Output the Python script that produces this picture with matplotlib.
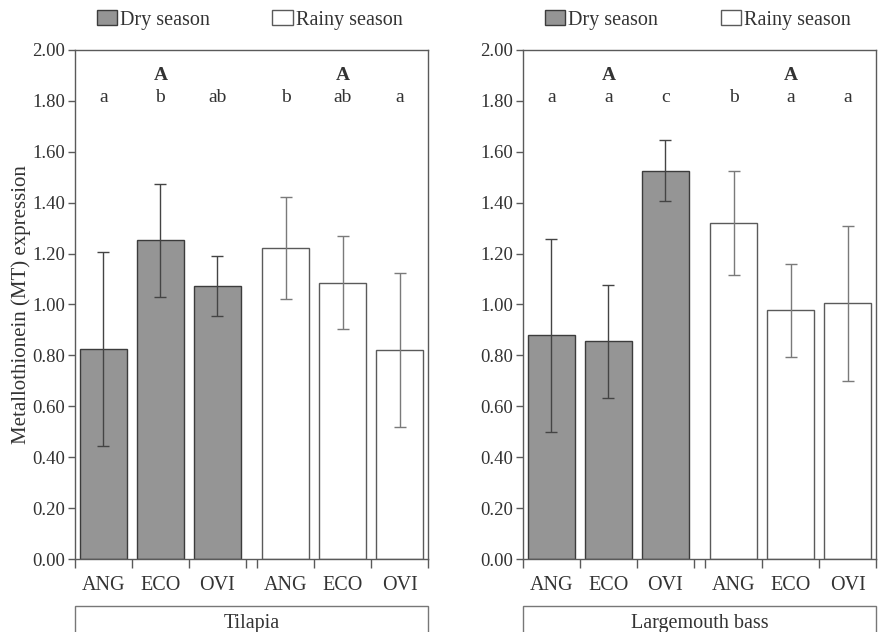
import matplotlib
matplotlib.use("Agg")
import matplotlib.pyplot as plt
from matplotlib.patches import Patch, Rectangle

plt.rcParams['font.family'] = ['Liberation Serif', 'DejaVu Serif']

sites = ["ANG", "ECO", "OVI"]
species = ["Tilapia", "Largemouth bass"]

# mean MT expression and error, dry then rainy season
tilapia_dry = [0.825, 1.253, 1.073]
tilapia_dry_err = [0.38, 0.222, 0.119]
tilapia_rainy = [1.221, 1.086, 0.821]
tilapia_rainy_err = [0.20, 0.183, 0.303]

bass_dry = [0.879, 0.856, 1.525]
bass_dry_err = [0.38, 0.222, 0.12]
bass_rainy = [1.320, 0.977, 1.005]
bass_rainy_err = [0.205, 0.183, 0.305]

tilapia_letters = ["a", "b", "ab", "b", "ab", "a"]
bass_letters = ["a", "a", "c", "b", "a", "a"]
upper_letters = ["", "A", "", "", "A", ""]

TEXT = "#333333"
DRY = "#959595"
EDGE = "#3c3c3c"
RAINY_EDGE = "#5a5a5a"
SPINE = "#5a5a5a"

fig = plt.figure(figsize=(8.79, 6.32), dpi=100)

panels = [
    (0.0853, species[0], tilapia_dry, tilapia_dry_err, tilapia_rainy, tilapia_rainy_err, tilapia_letters),
    (0.5950, species[1], bass_dry, bass_dry_err, bass_rainy, bass_rainy_err, bass_letters),
]

dry_x = [0, 1, 2]
rainy_x = [3.2, 4.2, 5.2]
width = 0.83

for left, name, dry, dry_err, rainy, rainy_err, letters in panels:
    ax = fig.add_axes([left, 0.1155, 0.4016, 0.8054])
    ax.bar(dry_x, dry, width, color=DRY, edgecolor=EDGE, linewidth=1.0, zorder=2)
    ax.bar(rainy_x, rainy, width, color="white", edgecolor=RAINY_EDGE, linewidth=1.0, zorder=2)
    ax.errorbar(dry_x, dry, yerr=dry_err, fmt="none", ecolor="#444444",
                elinewidth=1.0, capsize=4, capthick=1.0, zorder=3)
    ax.errorbar(rainy_x, rainy, yerr=rainy_err, fmt="none", ecolor="#7a7a7a",
                elinewidth=1.0, capsize=4, capthick=1.0, zorder=3)

    ax.set_xlim(-0.5, 5.7)
    ax.set_ylim(0, 2.0)
    ax.set_yticks([i * 0.2 for i in range(11)])
    ax.set_yticklabels([f"{i * 0.2:.2f}" for i in range(11)])
    ax.tick_params(axis="y", direction="out", length=5, width=1, color=SPINE,
                   labelsize=13.5, labelcolor=TEXT, pad=2)

    ax.set_xticks([-0.5, 0.5, 1.5, 2.5, 2.7, 3.7, 4.7, 5.7])
    ax.set_xticklabels([])
    ax.tick_params(axis="x", which="major", direction="out", length=6.5, width=1, color=SPINE)
    ax.set_xticks(dry_x + rainy_x, minor=True)
    ax.set_xticklabels(sites + sites, minor=True)
    ax.tick_params(axis="x", which="minor", length=0, labelsize=14.5, labelcolor=TEXT, pad=12)

    for s in ax.spines.values():
        s.set_color(SPINE)
        s.set_linewidth(1.0)

    for x, lo, up in zip(dry_x + rainy_x, letters, upper_letters):
        ax.text(x, 1.812, lo, ha="center", va="center", fontsize=14, color=TEXT)
        if up:
            ax.text(x, 1.9, up, ha="center", va="center", fontsize=14,
                    fontweight="bold", color=TEXT)

    handles = [Patch(facecolor=DRY, edgecolor=EDGE, label="Dry season"),
               Patch(facecolor="white", edgecolor=RAINY_EDGE, label="Rainy season")]
    leg = ax.legend(handles=handles, ncol=2, loc="center", bbox_to_anchor=(0.495, 1.059),
                    frameon=False, fontsize=14.5, handlelength=1.0, handleheight=0.72,
                    handletextpad=0.15, columnspacing=3.1, borderaxespad=0)
    for t in leg.get_texts():
        t.set_color(TEXT)

    # species box under the axis
    fig.patches.append(Rectangle((left, -0.05), 0.4016, 0.091, transform=fig.transFigure,
                                 facecolor="white", edgecolor="#777777", linewidth=1.0))
    fig.text(left + 0.4016 / 2, 0.013, name, ha="center", va="center",
             fontsize=14.5, color=TEXT)

ax0 = fig.axes[0]
ax0.set_ylabel("Metallothionein (MT) expression", fontsize=15, color=TEXT)
ax0.yaxis.set_label_coords(-0.125, 0.5)

fig.savefig("out.png", dpi=100)
